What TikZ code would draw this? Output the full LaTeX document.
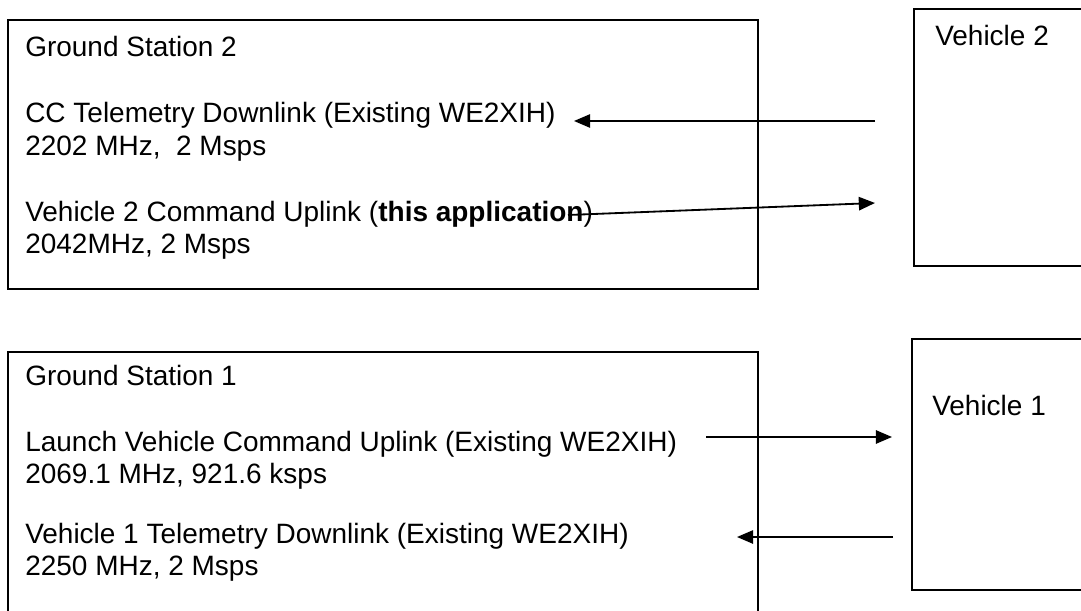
\documentclass[tikz,border=0pt]{standalone}
\usepackage{fontspec}
\setmainfont{Liberation Sans}
\usetikzlibrary{arrows.meta, positioning}
\tikzset{
  box/.style={draw, line width=1.3pt},
  lbl/.style={anchor=base west, inner sep=0pt, font=\fontsize{19.9}{23}\selectfont},
  link/.style={->, line width=1.3pt},
}

\begin{document}
\begin{tikzpicture}[x=0.025cm, y=-0.025cm, >={Triangle[length=11.5pt, width=9.5pt]}]
  \useasboundingbox (0,0) rectangle (1081,611);

  % ground station boxes
  \draw[box] (8,20) rectangle (758,289);
  \draw[box] (8,352) rectangle (758,630);
  % vehicle boxes, cut by the right edge
  \draw[box] (914,9) rectangle (1095,266);
  \draw[box] (912,339) rectangle (1095,590);

  \node[lbl] (gs2)   at (25,57)  {Ground Station 2};
  \node[lbl] (ccdn)  at (25,123) {CC Telemetry Downlink (Existing WE2XIH)};
  \node[lbl] (ccfq)  at (25,155) {2202 MHz,\ \ 2 Msps};
  \node[lbl] (v2up)  at (25,221) {Vehicle 2 Command Uplink (\textbf{this application})};
  \node[lbl] (v2fq)  at (25,253) {2042MHz, 2 Msps};

  \node[lbl] (gs1)   at (25,385) {Ground Station 1};
  \node[lbl] (lvup)  at (25,451) {Launch Vehicle Command Uplink (Existing WE2XIH)};
  \node[lbl] (lvfq)  at (25,483) {2069.1 MHz, 921.6 ksps};
  \node[lbl] (v1dn)  at (25,543) {Vehicle 1 Telemetry Downlink (Existing WE2XIH)};
  \node[lbl] (v1fq)  at (25,575) {2250 MHz, 2 Msps};

  \node[lbl] (veh2)  at (935,46)  {Vehicle 2};
  \node[lbl] (veh1)  at (932,415) {Vehicle 1};

  % link end points
  \coordinate (ccfrom) at (875,121);
  \coordinate (ccto)   at (574,121);
  \coordinate (v2from) at (568,215);
  \coordinate (v2to)   at (875,203);
  \coordinate (lvfrom) at (706,437);
  \coordinate (lvto)   at (892,437);
  \coordinate (v1from) at (893,537);
  \coordinate (v1to)   at (737,537);

  \draw[link] (ccfrom) -- (ccto);
  \draw[link] (v2from) -- (v2to);
  \draw[link] (lvfrom) -- (lvto);
  \draw[link] (v1from) -- (v1to);
\end{tikzpicture}
\end{document}
